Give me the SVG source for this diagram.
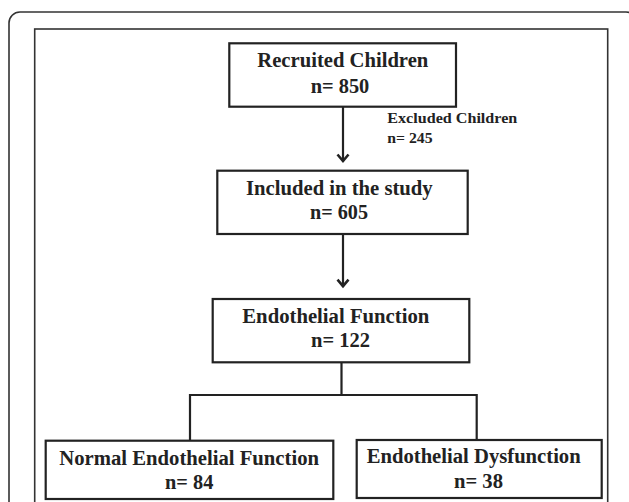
<svg xmlns="http://www.w3.org/2000/svg" width="629" height="502" viewBox="0 0 629 502">
<style>
.frame{fill:none;stroke:#333;stroke-width:1.6}
.box{fill:#fff;stroke:#222;stroke-width:2.2}
.ln{fill:none;stroke:#222;stroke-width:2.2}
.t{font-family:"Liberation Serif","Times New Roman",serif;font-weight:bold;font-size:20.5px;fill:#222}
.s{font-family:"Liberation Serif","Times New Roman",serif;font-weight:bold;font-size:14.5px;fill:#222}
</style>
<defs>
<marker id="ah" markerUnits="userSpaceOnUse" markerWidth="12" markerHeight="14" refX="9" refY="7" orient="auto" viewBox="0 0 12 14">
<path d="M2,1.5 L8.5,7 L2,12.5" fill="none" stroke="#222" stroke-width="2.6" stroke-linejoin="miter"/>
</marker>
</defs>
<rect width="629" height="502" fill="#fff"/>
<rect class="frame" x="9" y="12" width="628" height="520" rx="11"/>
<rect class="frame" x="34.7" y="29" width="573" height="500"/>
<g id="connectors">
<line class="ln" x1="343" y1="106.7" x2="343" y2="161.5" marker-end="url(#ah)"/>
<line class="ln" x1="343" y1="234" x2="343" y2="286.7" marker-end="url(#ah)"/>
<polyline class="ln" points="341.5,362.3 341.5,395 190,395 190,440.7"/>
<polyline class="ln" points="341.5,395 476.7,395 476.7,440"/>
<g id="excluded">
<text class="s" x="387.3" y="122.7" textLength="130" lengthAdjust="spacingAndGlyphs">Excluded Children</text>
<text class="s" x="387.3" y="143.3" textLength="45.3" lengthAdjust="spacingAndGlyphs">n= 245</text>
</g>
</g>
<g id="recruited">
<rect class="box" x="229.3" y="43.3" width="226.7" height="63.4"/>
<text class="t" x="257.3" y="67.3" textLength="171" lengthAdjust="spacingAndGlyphs">Recruited Children</text>
<text class="t" x="310.7" y="92.7" textLength="58.6" lengthAdjust="spacingAndGlyphs">n= 850</text>
</g>
<g id="included">
<rect class="box" x="217.3" y="170.7" width="250.4" height="63.3"/>
<text class="t" x="246" y="195" textLength="186.7" lengthAdjust="spacingAndGlyphs">Included in the study</text>
<text class="t" x="310" y="219.3" textLength="58" lengthAdjust="spacingAndGlyphs">n= 605</text>
</g>
<g id="endothelial">
<rect class="box" x="212.7" y="299" width="256.6" height="63.3"/>
<text class="t" x="242.3" y="322.7" textLength="187" lengthAdjust="spacingAndGlyphs">Endothelial Function</text>
<text class="t" x="311" y="347.3" textLength="59" lengthAdjust="spacingAndGlyphs">n= 122</text>
</g>
<g id="normal">
<rect class="box" x="45.7" y="440.7" width="287.6" height="58.3"/>
<text class="t" x="59.3" y="465" textLength="259.7" lengthAdjust="spacingAndGlyphs">Normal Endothelial Function</text>
<text class="t" x="165" y="489" textLength="48.3" lengthAdjust="spacingAndGlyphs">n= 84</text>
</g>
<g id="dysfunction">
<rect class="box" x="356.7" y="440" width="245" height="58"/>
<text class="t" x="366.7" y="463" textLength="214" lengthAdjust="spacingAndGlyphs">Endothelial Dysfunction</text>
<text class="t" x="454" y="488" textLength="49" lengthAdjust="spacingAndGlyphs">n= 38</text>
</g>
</svg>
